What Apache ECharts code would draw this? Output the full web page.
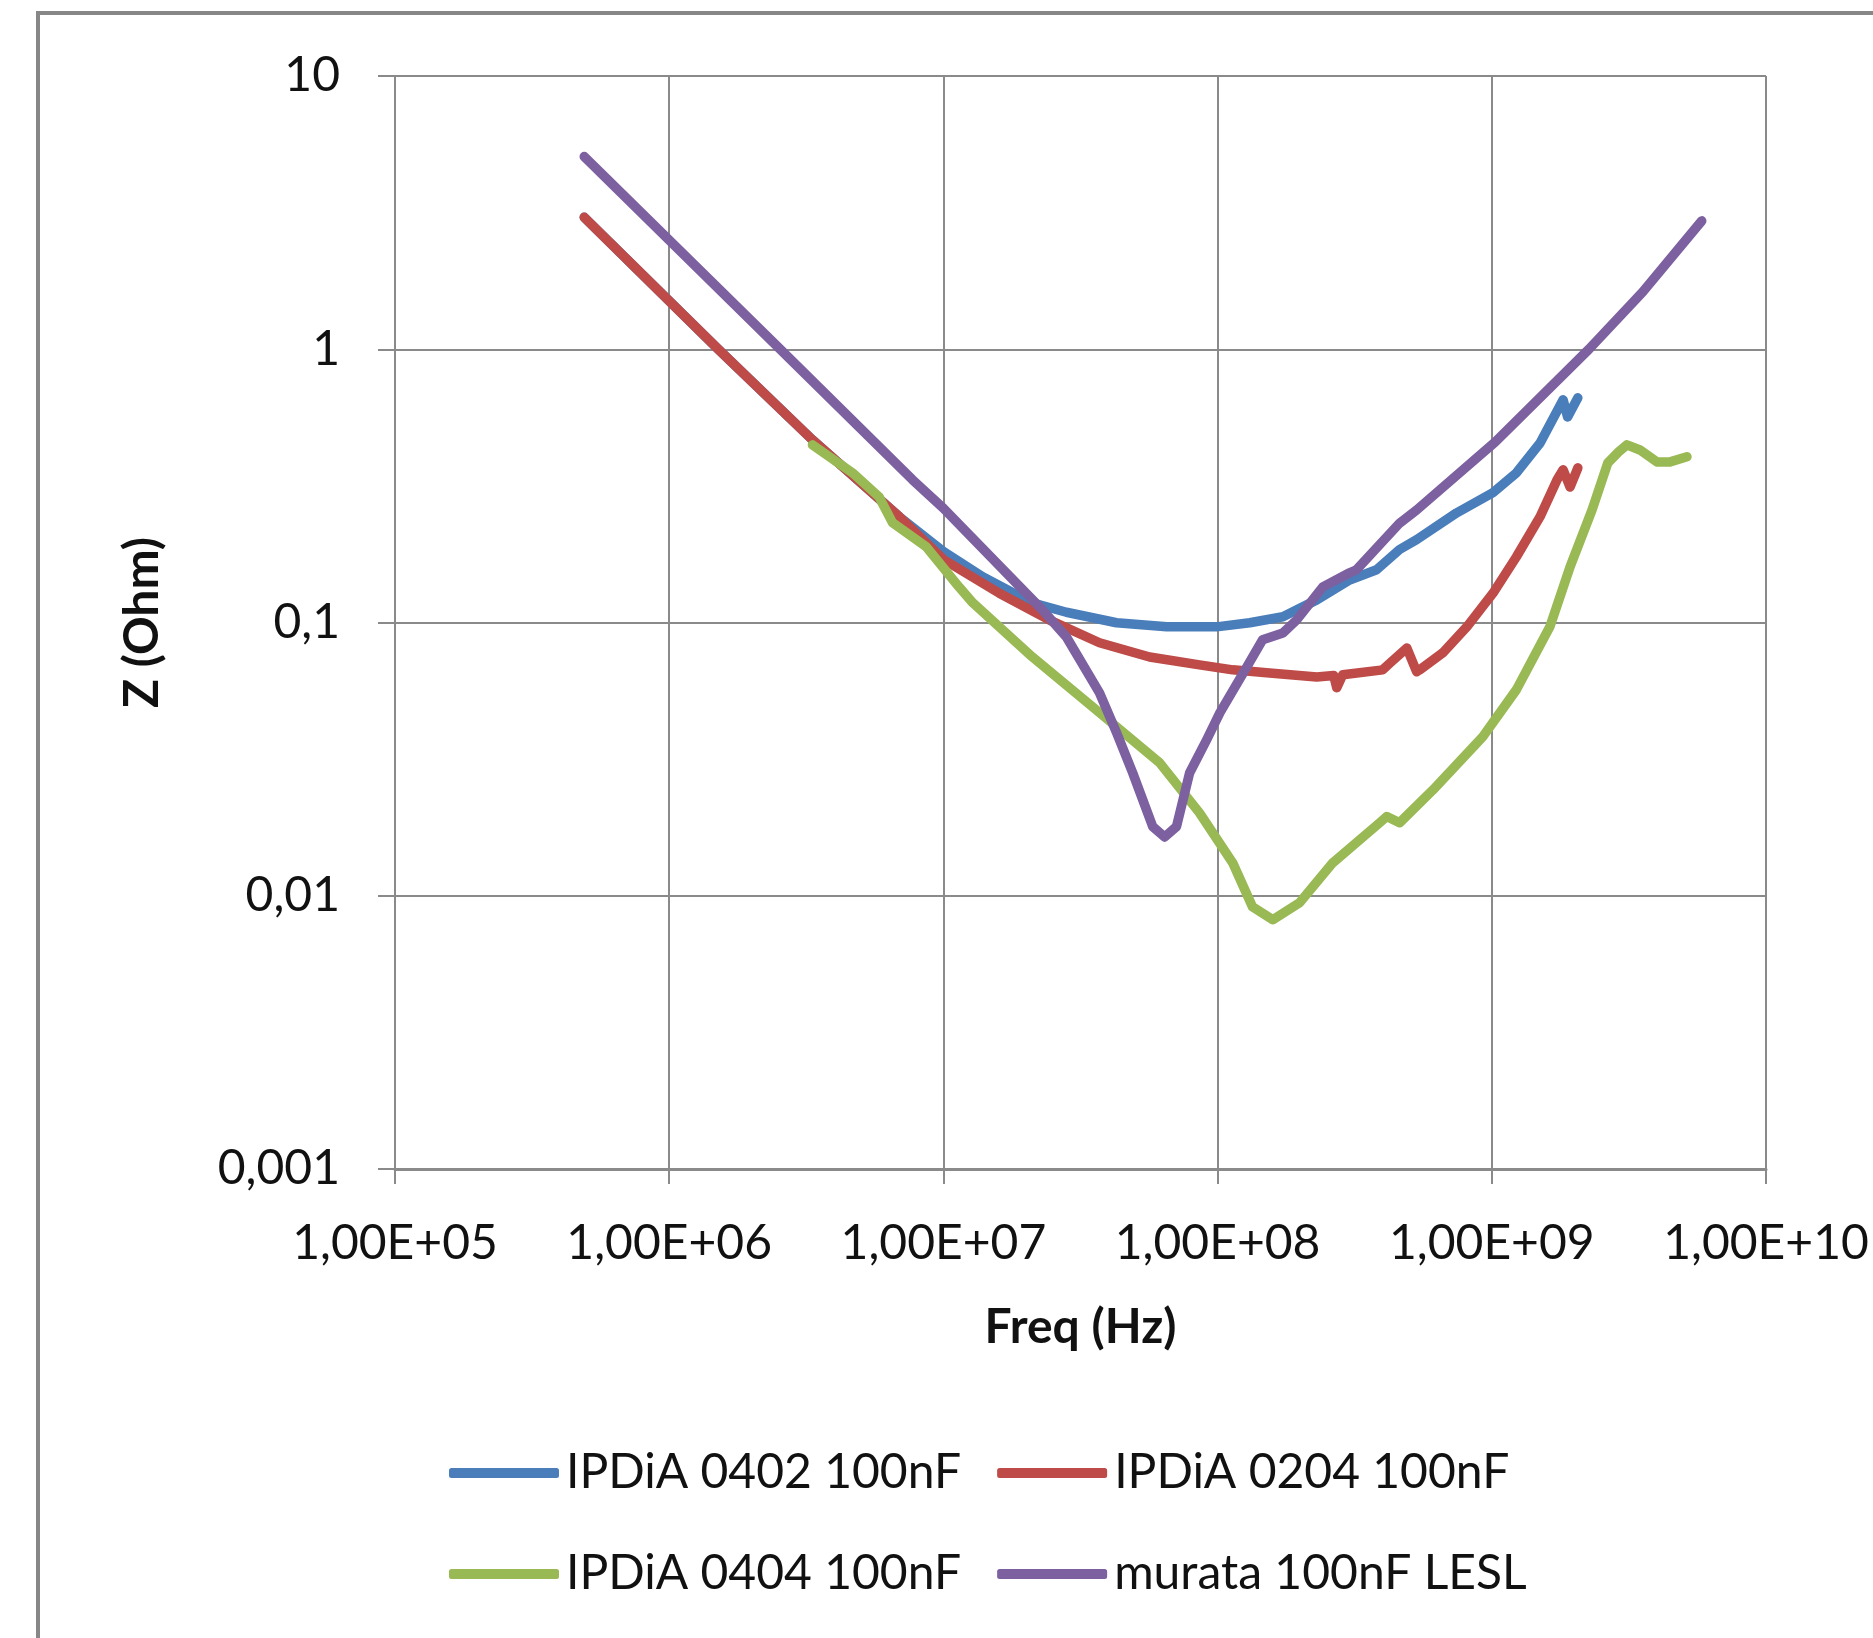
<!DOCTYPE html>
<html>
<head>
<meta charset="utf-8">
<script src="https://cdn.jsdelivr.net/npm/echarts@6/dist/echarts.min.js"></script>
<style>
  html, body { margin: 0; padding: 0; background: #fff; }
  #chart { width: 1873px; height: 1638px; }
</style>
</head>
<body>
<div id="chart"></div>
<script>
// ---- data ----
const seriesNames = ['IPDiA 0402 100nF', 'IPDiA 0204 100nF', 'IPDiA 0404 100nF', 'murata 100nF LESL'];

const blueFreq = [4.9e5, 1.51e6, 3.33e6, 6.9e6, 1.0e7, 1.39e7, 2.11e7, 2.81e7, 4.28e7, 6.52e7, 9.91e7, 1.31e8, 1.73e8, 2.3e8, 3.03e8, 3.8e8, 4.61e8, 5.32e8, 7.45e8, 1.01e9, 1.23e9, 1.5e9, 1.82e9, 1.89e9, 2.06e9];
const blueZ    = [3.04, 1.0, 0.466, 0.244, 0.182, 0.147, 0.118, 0.109, 0.0998, 0.0964, 0.0964, 0.0998, 0.105, 0.121, 0.143, 0.156, 0.185, 0.201, 0.252, 0.299, 0.353, 0.454, 0.653, 0.565, 0.664];

const redFreq = [4.9e5, 1.51e6, 3.33e6, 6.9e6, 1.0e7, 1.6e7, 2.44e7, 3.71e7, 5.65e7, 8.59e7, 1.135e8, 1.51e8, 2.3e8, 2.65e8, 2.72e8, 2.86e8, 4.0e8, 4.25e8, 4.9e8, 5.32e8, 5.46e8, 6.62e8, 8.11e8, 1.01e9, 1.23e9, 1.5e9, 1.73e9, 1.82e9, 1.93e9, 2.06e9];
const redZ    = [3.04, 1.0, 0.466, 0.244, 0.17, 0.128, 0.102, 0.0843, 0.0748, 0.070, 0.0671, 0.0655, 0.0632, 0.064, 0.0577, 0.0644, 0.0671, 0.071, 0.0807, 0.066, 0.0671, 0.0774, 0.0964, 0.128, 0.174, 0.244, 0.333, 0.362, 0.313, 0.368];

const greenFreq = [3.33e6, 4.66e6, 5.83e6, 6.52e6, 8.67e6, 1.14e7, 1.28e7, 2.11e7, 3.71e7, 6.14e7, 8.59e7, 1.135e8, 1.34e8, 1.59e8, 1.99e8, 2.63e8, 3.9e8, 4.14e8, 4.61e8, 6.1e8, 9.27e8, 1.23e9, 1.63e9, 1.93e9, 2.32e9, 2.65e9, 2.9e9, 3.11e9, 3.47e9, 4.0e9, 4.47e9, 5.15e9];
const greenZ    = [0.447, 0.353, 0.288, 0.232, 0.189, 0.135, 0.118, 0.0748, 0.0468, 0.0307, 0.0201, 0.0132, 0.00912, 0.00817, 0.00942, 0.0132, 0.0185, 0.0195, 0.0185, 0.0244, 0.0382, 0.0568, 0.0966, 0.160, 0.258, 0.384, 0.421, 0.447, 0.428, 0.387, 0.387, 0.404];

const purpleFreq = [4.9e5, 2.54e6, 7.71e6, 1.0e7, 2.3e7, 2.81e7, 3.71e7, 4.28e7, 4.9e7, 5.8e7, 6.41e7, 7.08e7, 7.91e7, 9.12e7, 1.02e8, 1.28e8, 1.46e8, 1.73e8, 1.94e8, 2.42e8, 3.03e8, 3.21e8, 4.61e8, 5.32e8, 1.03e9, 2.26e9, 3.55e9, 5.83e9];
const purpleZ    = [5.07, 1.0, 0.333, 0.262, 0.111, 0.0885, 0.0553, 0.0395, 0.0282, 0.0179, 0.0164, 0.0179, 0.0282, 0.0372, 0.0468, 0.0689, 0.0865, 0.0916, 0.102, 0.135, 0.152, 0.156, 0.231, 0.258, 0.458, 1.0, 1.62, 2.95];

const xTicks = [1e5, 1e6, 1e7, 1e8, 1e9, 1e10];
const xTickLabels = ['1,00E+05', '1,00E+06', '1,00E+07', '1,00E+08', '1,00E+09', '1,00E+10'];
const yTicks = [0.001, 0.01, 0.1, 1, 10];
const yTickLabels = ['0,001', '0,01', '0,1', '1', '10'];

const xName = 'Freq (Hz)';
const yName = 'Z (Ohm)';

// ---- build ----
function pairs(fs, zs) { return fs.map((f, i) => [f, zs[i]]); }
function lookup(ticks, labels) {
  return function (v) {
    for (let i = 0; i < ticks.length; i++) {
      if (Math.abs(Math.log10(v) - Math.log10(ticks[i])) < 1e-6) return labels[i];
    }
    return '';
  };
}

const colors = ['#4a7ebb', '#be4b48', '#98b954', '#7d60a0'];
const FONT = 'Lato, "Open Sans", sans-serif';
const gridColor = '#8a8a8a';

const chart = echarts.init(document.getElementById('chart'), null, { renderer: 'canvas' });

const seriesData = [pairs(blueFreq, blueZ), pairs(redFreq, redZ), pairs(greenFreq, greenZ), pairs(purpleFreq, purpleZ)];

const legendCommon = {
  orient: 'horizontal',
  left: 444,
  icon: 'roundRect',
  itemWidth: 110,
  itemHeight: 10,
  itemGap: 36,
  textStyle: { fontFamily: FONT, fontSize: 48, color: '#111', padding: [0, 0, 0, 2] }
};

chart.setOption({
  animation: false,
  backgroundColor: '#ffffff',
  color: colors,
  graphic: [{
    type: 'rect',
    shape: { x: 38, y: 13, width: 1900, height: 1700 },
    style: { fill: 'none', stroke: '#878787', lineWidth: 4 },
    silent: true,
    z: -10
  }],
  grid: { left: 395, top: 76, width: 1371, height: 1093, containLabel: false },
  legend: [
    Object.assign({}, legendCommon, { top: 1444, data: [seriesNames[0], seriesNames[1]] }),
    Object.assign({}, legendCommon, { top: 1545, data: [seriesNames[2], seriesNames[3]] })
  ],
  xAxis: {
    type: 'log',
    logBase: 10,
    min: xTicks[0],
    max: xTicks[xTicks.length - 1],
    splitNumber: 5,
    name: xName,
    nameLocation: 'middle',
    nameGap: 135,
    nameTextStyle: { fontFamily: FONT, fontSize: 48, fontWeight: 'bold', color: '#111' },
    axisLine: { show: true, lineStyle: { color: gridColor, width: 3 } },
    axisTick: { show: true, inside: false, length: 15, lineStyle: { color: gridColor, width: 2 } },
    axisLabel: { fontFamily: FONT, fontSize: 48, color: '#111', margin: 51, formatter: lookup(xTicks, xTickLabels) },
    splitLine: { show: true, lineStyle: { color: gridColor, width: 2 } },
    minorTick: { show: false }
  },
  yAxis: {
    type: 'log',
    logBase: 10,
    min: yTicks[0],
    max: yTicks[yTicks.length - 1],
    splitNumber: 4,
    name: yName,
    nameLocation: 'middle',
    nameGap: 228,
    nameTextStyle: { fontFamily: FONT, fontSize: 48, fontWeight: 'bold', color: '#111' },
    axisLine: { show: true, lineStyle: { color: gridColor, width: 2 } },
    axisTick: { show: true, inside: false, length: 17, lineStyle: { color: gridColor, width: 2 } },
    axisLabel: { fontFamily: FONT, fontSize: 48, color: '#111', margin: 55, formatter: lookup(yTicks, yTickLabels) },
    splitLine: { show: true, lineStyle: { color: gridColor, width: 2 } }
  },
  series: seriesNames.map((name, i) => ({
    name: name,
    type: 'line',
    data: seriesData[i],
    symbol: 'none',
    showSymbol: false,
    smooth: false,
    clip: true,
    lineStyle: { color: colors[i], width: 9.5, cap: 'round', join: 'round' },
    itemStyle: { color: colors[i] },
    z: 2 + i
  }))
});
</script>
</body>
</html>
